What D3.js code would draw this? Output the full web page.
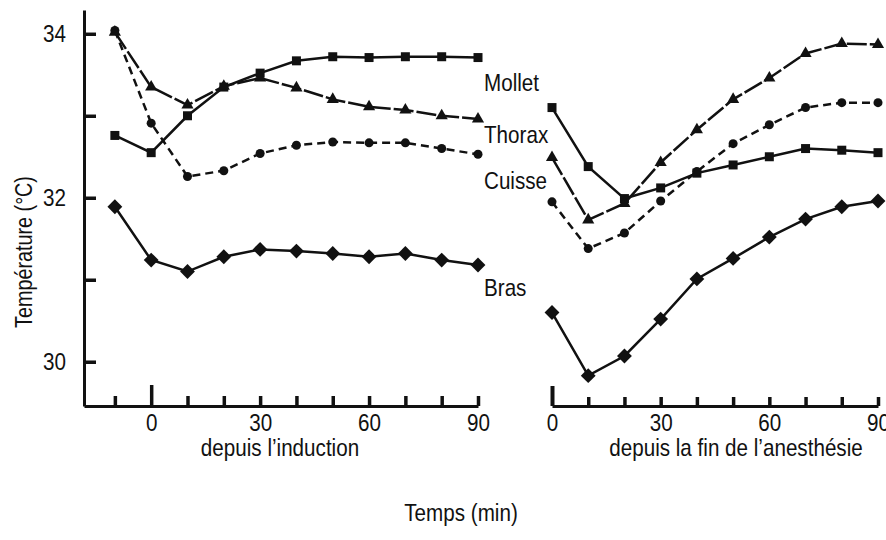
<!DOCTYPE html>
<html>
<head>
<meta charset="utf-8">
<script src="https://cdn.jsdelivr.net/npm/d3@7"></script>
<style>
  body { margin: 0; background: #fff; }
  svg { display: block; }
  text { font-family: "Liberation Sans", Arial, sans-serif; fill: #111; }
</style>
</head>
<body>
<script>
// données
let timesLeft = [-10, 0, 10, 20, 30, 40, 50, 60, 70, 80, 90];
let timesRight = [0, 10, 20, 30, 40, 50, 60, 70, 80, 90];

let molletL = [32.76, 32.55, 33.0, 33.35, 33.52, 33.67, 33.72, 33.71, 33.72, 33.72, 33.71];
let thoraxL = [34.02, 33.35, 33.13, 33.36, 33.46, 33.34, 33.2, 33.11, 33.07, 33.0, 32.96];
let cuisseL = [34.04, 32.91, 32.26, 32.33, 32.54, 32.64, 32.68, 32.67, 32.67, 32.6, 32.53];
let brasL   = [31.89, 31.24, 31.1, 31.28, 31.37, 31.35, 31.32, 31.28, 31.32, 31.24, 31.18];

let molletR = [33.1, 32.38, 31.99, 32.12, 32.3, 32.4, 32.5, 32.6, 32.58, 32.55];
let thoraxR = [32.49, 31.73, 31.93, 32.43, 32.83, 33.2, 33.46, 33.76, 33.88, 33.87];
let cuisseR = [31.95, 31.38, 31.57, 31.96, 32.32, 32.66, 32.89, 33.1, 33.16, 33.16];
let brasR   = [30.6, 29.83, 30.07, 30.52, 31.01, 31.26, 31.52, 31.74, 31.89, 31.96];

let seriesNames = ["Mollet", "Thorax", "Cuisse", "Bras"];
let yTicks = [30, 31, 32, 33, 34];
let xTicksLeft = [-10, 0, 10, 20, 30, 40, 50, 60, 70, 80, 90];
let xTicksRight = [0, 10, 20, 30, 40, 50, 60, 70, 80, 90];
let xLabels = [0, 30, 60, 90];

let width = 886, height = 540;
let squeeze = 0.86; // police étroite du document original

let svg = d3.select("body").append("svg")
    .attr("width", width)
    .attr("height", height);

// échelles
let y = d3.scaleLinear().domain([29.46, 34.29]).range([406, 10]);
let xL = d3.scaleLinear().domain([-18.5, 90]).range([84, 478]);
let xR = d3.scaleLinear().domain([0, 90]).range([552, 878]);

// styles des séries
let styles = {
  Mollet: {symbol: d3.symbolSquare, size: 81, rotate: 0, dash: null},
  Thorax: {symbol: d3.symbolTriangle, size: 64, rotate: 0, dash: "20,3"},
  Cuisse: {symbol: d3.symbolCircle, size: 64, rotate: 0, dash: "8,5"},
  Bras:   {symbol: d3.symbolSquare, size: 110, rotate: 45, dash: null}
};

let left = {Mollet: molletL, Thorax: thoraxL, Cuisse: cuisseL, Bras: brasL};
let right = {Mollet: molletR, Thorax: thoraxR, Cuisse: cuisseR, Bras: brasR};

function addText(g, str, x, yy, anchor, size, rot) {
  return g.append("text")
      .attr("transform", "translate(" + x + "," + yy + ")" + (rot ? " rotate(" + rot + ")" : "") + " scale(" + squeeze + ",1)")
      .attr("text-anchor", anchor)
      .style("font-size", size + "px")
      .text(str);
}

// axe y (gauche)
let yAxis = svg.append("g")
    .attr("transform", "translate(" + xL.range()[0] + ",0)")
    .call(d3.axisLeft(y)
        .tickValues(yTicks)
        .tickSizeInner(-12)
        .tickSizeOuter(0)
        .tickPadding(21)
        .tickFormat(function(d) { return d % 2 === 0 ? d : ""; }));

// axes x
let axL = svg.append("g")
    .attr("transform", "translate(0," + y.range()[0] + ")")
    .call(d3.axisBottom(xL)
        .tickValues(xTicksLeft)
        .tickSizeInner(-10)
        .tickSizeOuter(0)
        .tickPadding(8)
        .tickFormat(function(d) { return xLabels.indexOf(d) >= 0 ? d : ""; }));

let axR = svg.append("g")
    .attr("transform", "translate(0," + y.range()[0] + ")")
    .call(d3.axisBottom(xR)
        .tickValues(xTicksRight)
        .tickSizeInner(-9)
        .tickSizeOuter(0)
        .tickPadding(8)
        .tickFormat(function(d) { return xLabels.indexOf(d) >= 0 ? d : ""; }));

// le trait du zéro est plus long
axL.selectAll(".tick line").filter(function(d) { return d === 0; }).attr("y2", -21);
axR.selectAll(".tick line").filter(function(d) { return d === 0; }).attr("y2", -20);

[yAxis, axL, axR].forEach(function(a) {
  a.select(".domain").attr("stroke", "#111").attr("stroke-width", 3);
  a.selectAll(".tick line").attr("stroke", "#111").attr("stroke-width", 3.5);
  a.selectAll(".tick text")
      .attr("fill", "#111")
      .style("font-size", "24px")
      .style("font-family", "'Liberation Sans', Arial, sans-serif")
      .attr("transform", "scale(" + squeeze + ",1)");
});
axR.selectAll(".tick line").filter(function(d) { return d === 0; }).attr("stroke-width", 4);

// courbes
function drawPanel(x, times, data) {
  let g = svg.append("g");
  seriesNames.forEach(function(name) {
    let st = styles[name];
    let pts = times.map(function(t, i) { return {t: t, v: data[name][i]}; });
    let line = d3.line()
        .x(function(d) { return x(d.t); })
        .y(function(d) { return y(d.v); });
    g.append("path")
        .datum(pts)
        .attr("d", line)
        .attr("fill", "none")
        .attr("stroke", "#111")
        .attr("stroke-width", 2.5)
        .attr("stroke-dasharray", st.dash);
    g.selectAll(".m-" + name)
        .data(pts)
        .enter().append("path")
        .attr("class", "m-" + name)
        .attr("d", d3.symbol().type(st.symbol).size(st.size))
        .attr("transform", function(d) {
          return "translate(" + x(d.t) + "," + y(d.v) + ") rotate(" + st.rotate + ")";
        })
        .attr("fill", "#111");
  });
}

drawPanel(xL, timesLeft, left);
drawPanel(xR, timesRight, right);

// étiquettes des séries
let labelY = {Mollet: 91, Thorax: 143, Cuisse: 189, Bras: 296};
seriesNames.forEach(function(name) {
  addText(svg, name, 484, labelY[name], "start", 24);
});

// titres
addText(svg, "depuis l\u2019induction", 280, 456, "middle", 24);
addText(svg, "depuis la fin de l\u2019anesth\u00e9sie", 736, 456, "middle", 24);
addText(svg, "Temps (min)", 461, 521, "middle", 24);
addText(svg, "Temp\u00e9rature (\u00b0C)", 32, 252, "middle", 23, -90);
</script>
</body>
</html>
